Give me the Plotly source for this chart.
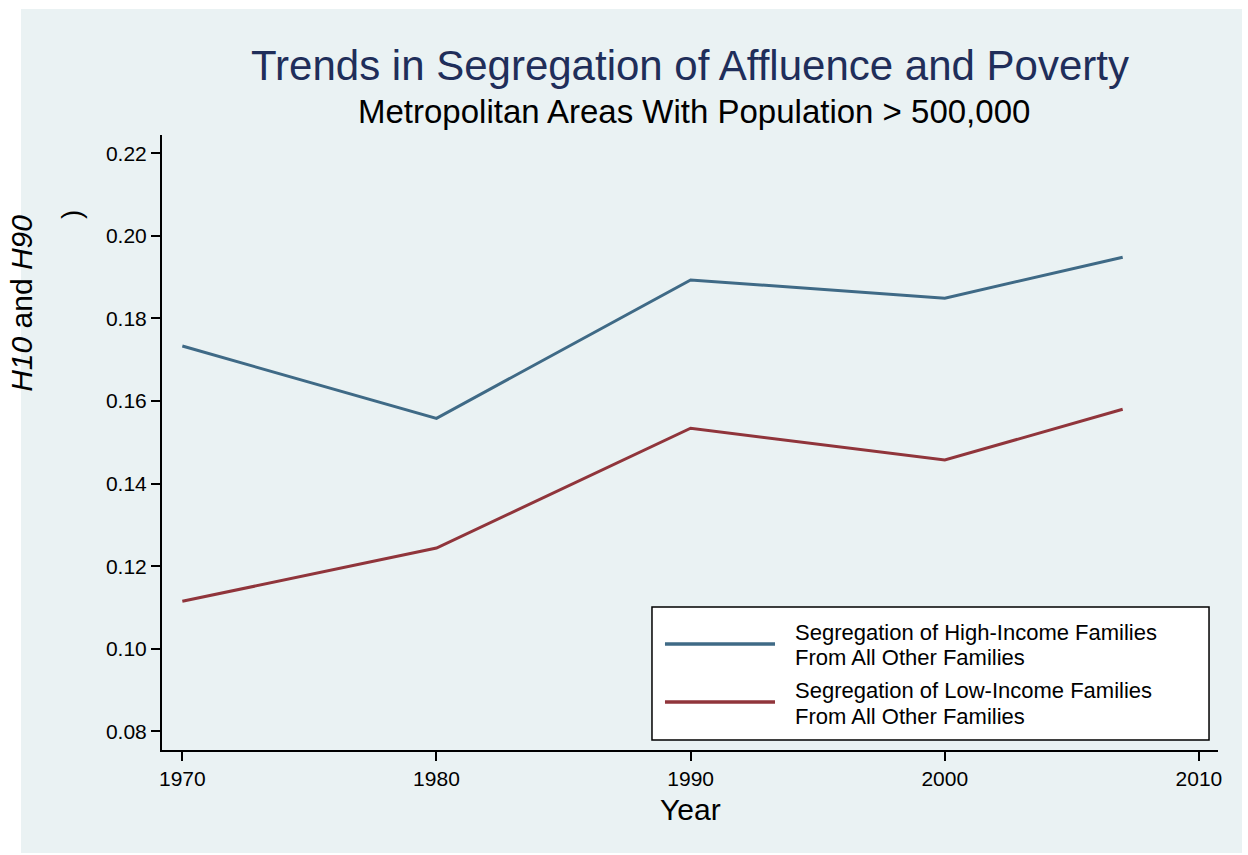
import plotly.graph_objects as go

years = [1970, 1980, 1990, 2000, 2007]
high_income = [0.1733, 0.1558, 0.1893, 0.1849, 0.1948]
low_income = [0.1115, 0.1244, 0.1534, 0.1457, 0.1580]
series_names = ["Segregation of High-Income Families|From All Other Families",
                "Segregation of Low-Income Families|From All Other Families"]
series_colors = ["#3F6A86", "#90353B"]
x_ticks = [1970, 1980, 1990, 2000, 2010]
y_ticks = [0.08, 0.10, 0.12, 0.14, 0.16, 0.18, 0.20, 0.22]

FONT = "Liberation Sans"
BG = "#EAF2F3"

fig = go.Figure()
for vals, name, col in zip([high_income, low_income], series_names, series_colors):
    fig.add_trace(go.Scatter(x=years, y=vals, mode="lines", name=name.replace("|", " "),
                             line=dict(color=col, width=3), showlegend=False))

shapes = [
    dict(type="rect", xref="paper", yref="paper", x0=-0.1335, x1=1.0227, y0=-0.1675, y1=1.2049,
         fillcolor=BG, line=dict(width=0), layer="below"),
]
annotations = [
    dict(text="Trends in Segregation of Affluence and Poverty", xref="paper", yref="paper",
         x=0.5, y=1.1138, xanchor="center", yanchor="middle", showarrow=False,
         font=dict(family=FONT, size=42, color="#1F2E5A")),
    dict(text="Metropolitan Areas With Population > 500,000", xref="paper", yref="paper",
         x=0.504, y=1.0374, xanchor="center", yanchor="middle", showarrow=False,
         font=dict(family=FONT, size=33, color="#000000")),
    dict(text="<i>H10</i> and <i>H90</i>", xref="paper", yref="paper",
         x=-0.1326, y=0.727, xanchor="center", yanchor="middle", showarrow=False, textangle=-90,
         font=dict(family=FONT, size=30, color="#000000")),
    dict(text=")", xref="paper", yref="paper",
         x=-0.0852, y=0.870, xanchor="center", yanchor="middle", showarrow=False, textangle=-90,
         font=dict(family=FONT, size=28, color="#000000")),
    dict(text="Year", xref="paper", yref="paper",
         x=0.5, y=-0.0975, xanchor="center", yanchor="middle", showarrow=False,
         font=dict(family=FONT, size=30, color="#000000")),
]

# legend box (drawn manually to match long line samples)
lx0, lx1 = 0.4640, 0.9915
ly0, ly1 = 0.0163, 0.2325
shapes.append(dict(type="rect", xref="paper", yref="paper", x0=lx0, x1=lx1, y0=ly0, y1=ly1,
                   fillcolor="white", line=dict(color="black", width=1.5)))
rows_y = [0.1724, 0.0780]
for name, col, ry in zip(series_names, series_colors, rows_y):
    shapes.append(dict(type="line", xref="paper", yref="paper", x0=0.4763, x1=0.5805, y0=ry, y1=ry,
                       line=dict(color=col, width=3.5)))
    line1, line2 = name.split("|")
    for txt, dy in [(line1, 0.0190), (line2, -0.0228)]:
        annotations.append(dict(text=txt, xref="paper", yref="paper", x=0.5975, y=ry + dy,
                                xanchor="left", yanchor="middle", align="left", showarrow=False,
                                font=dict(family=FONT, size=22, color="black")))

fig.update_layout(
    width=1248, height=855,
    margin=dict(l=162, r=30, t=135, b=105),
    paper_bgcolor="white", plot_bgcolor="white",
    font=dict(family=FONT, color="black"),
    shapes=shapes, annotations=annotations,
    xaxis=dict(range=[1969.2, 2010.75], tickvals=x_ticks, ticks="outside", ticklen=9,
               tickcolor="black", tickwidth=1.5, showline=True, linecolor="black", linewidth=2,
               showgrid=False, zeroline=False, tickfont=dict(size=21, family=FONT)),
    yaxis=dict(range=[0.0755, 0.2244], tickvals=y_ticks, tickformat=".2f", ticks="outside",
               ticklen=9, tickcolor="black", tickwidth=1.5, showline=True, linecolor="black",
               linewidth=2, showgrid=True, gridcolor=BG, gridwidth=2, zeroline=False,
               tickfont=dict(size=21, family=FONT)),
)

fig.write_html("out.html", config={"displayModeBar": False},
               post_script="document.body.style.margin='0';document.body.style.overflow='hidden';")
